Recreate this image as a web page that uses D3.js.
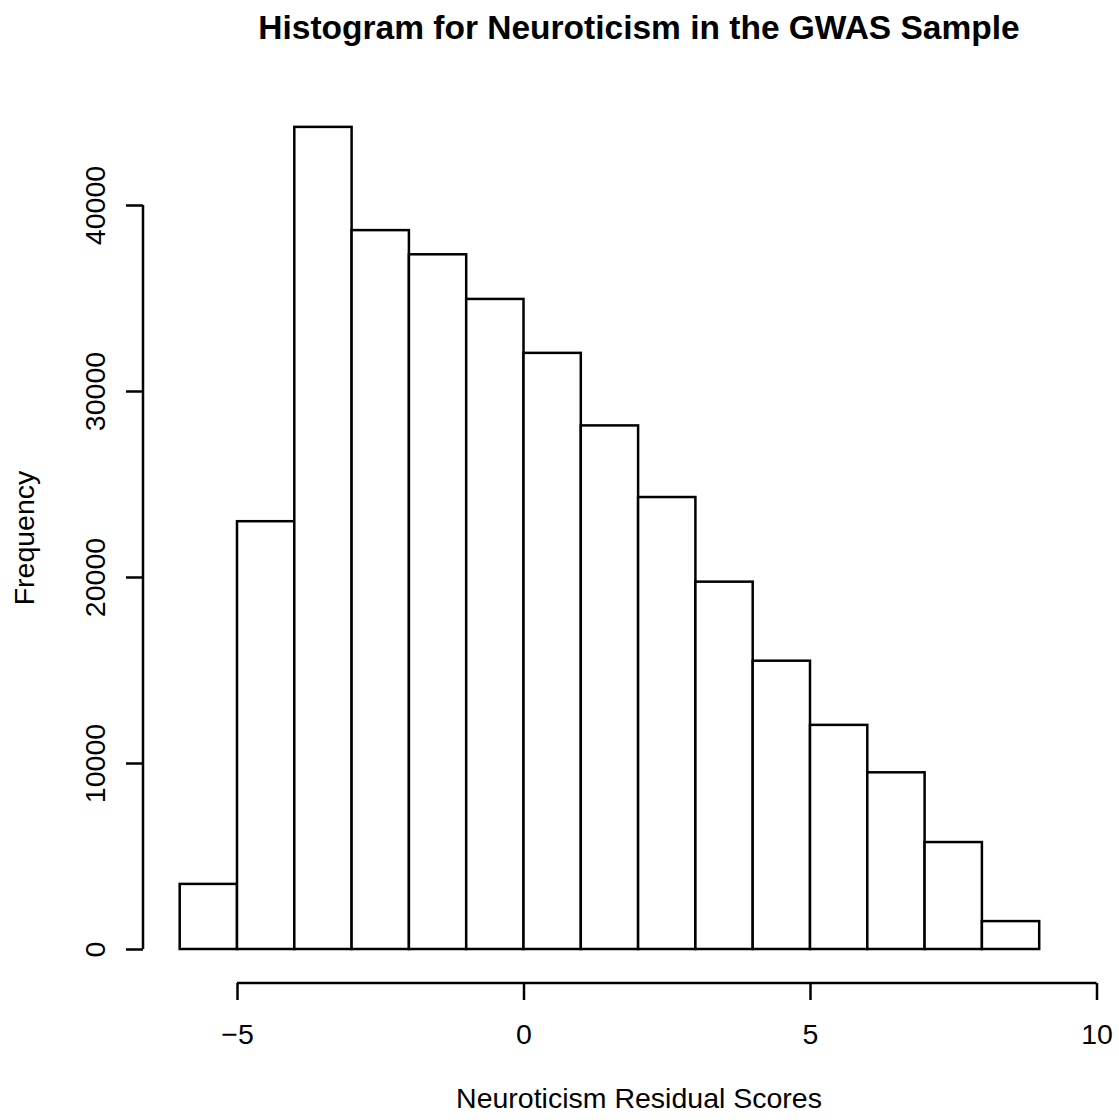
<!DOCTYPE html>
<html>
<head>
<meta charset="utf-8">
<script src="https://cdn.jsdelivr.net/npm/d3@7"></script>
<style>
  body { margin: 0; background: #fff; }
  text { font-family: "Liberation Sans", Arial, sans-serif; fill: #000; }
</style>
</head>
<body>
<div id="chart"></div>
<script>
// histogram bins (width 1) and counts
const binStarts = [-6, -5, -4, -3, -2, -1, 0, 1, 2, 3, 4, 5, 6, 7, 8, 9];
const counts = [3500, 23000, 44200, 38650, 37350, 34950, 32050, 28150, 24300, 19750, 15500, 12050, 9500, 5750, 1500, 0];
const xTicks = [-5, 0, 5, 10];
const yTicks = [0, 10000, 20000, 30000, 40000];

const W = 1119, H = 1120;

const svg = d3.select("#chart")
  .append("svg")
  .attr("width", W)
  .attr("height", H);

const x = d3.scaleLinear().domain([-5, 10]).range([237, 1096.5]);
const y = d3.scaleLinear().domain([0, 40000]).range([949, 205]);

const bins = binStarts.map((b, i) => ({ x0: b, x1: b + 1, n: counts[i] }));

// bars
svg.selectAll("rect.bar")
  .data(bins)
  .enter()
  .append("rect")
  .attr("class", "bar")
  .attr("x", d => x(d.x0))
  .attr("y", d => y(d.n))
  .attr("width", d => x(d.x1) - x(d.x0))
  .attr("height", d => y(0) - y(d.n))
  .attr("fill", "#fff")
  .attr("stroke", "#000")
  .attr("stroke-width", 2.5);

// x axis (R style, detached)
const xAxis = svg.append("g")
  .attr("transform", "translate(0,983)")
  .call(d3.axisBottom(x).tickValues(xTicks).tickSize(17)
    .tickFormat(d => d < 0 ? "\u2212" + Math.abs(d) : d));
xAxis.select(".domain").attr("d", `M${x(-5)},0H${x(10)}`).attr("stroke-width", 2.5);
xAxis.selectAll(".tick line").attr("stroke-width", 2.5);
xAxis.selectAll(".tick text")
  .style("font-size", "28.5px")
  .attr("fill", "#000")
  .attr("y", 61)
  .attr("dy", null);

// y axis
const yAxis = svg.append("g")
  .attr("transform", "translate(143,0)")
  .call(d3.axisLeft(y).tickValues(yTicks).tickSize(17).tickFormat(d3.format("d")));
yAxis.select(".domain").attr("d", `M0,${y(0)}V${y(40000)}`).attr("stroke-width", 2.5);
yAxis.selectAll(".tick line").attr("stroke-width", 2.5);
yAxis.selectAll(".tick text")
  .style("font-size", "28.5px")
  .attr("fill", "#000")
  .attr("x", null)
  .attr("dy", null)
  .attr("text-anchor", "middle")
  .attr("transform", "translate(-38,0) rotate(-90)");

// title and labels
svg.append("text")
  .attr("x", 639)
  .attr("y", 39)
  .attr("text-anchor", "middle")
  .style("font-size", "33.5px")
  .style("font-weight", "bold")
  .text("Histogram for Neuroticism in the GWAS Sample");

svg.append("text")
  .attr("x", 639)
  .attr("y", 1108)
  .attr("text-anchor", "middle")
  .style("font-size", "28.5px")
  .text("Neuroticism Residual Scores");

svg.append("text")
  .attr("transform", "translate(34,538) rotate(-90)")
  .attr("text-anchor", "middle")
  .style("font-size", "28.5px")
  .text("Frequency");
</script>
</body>
</html>
